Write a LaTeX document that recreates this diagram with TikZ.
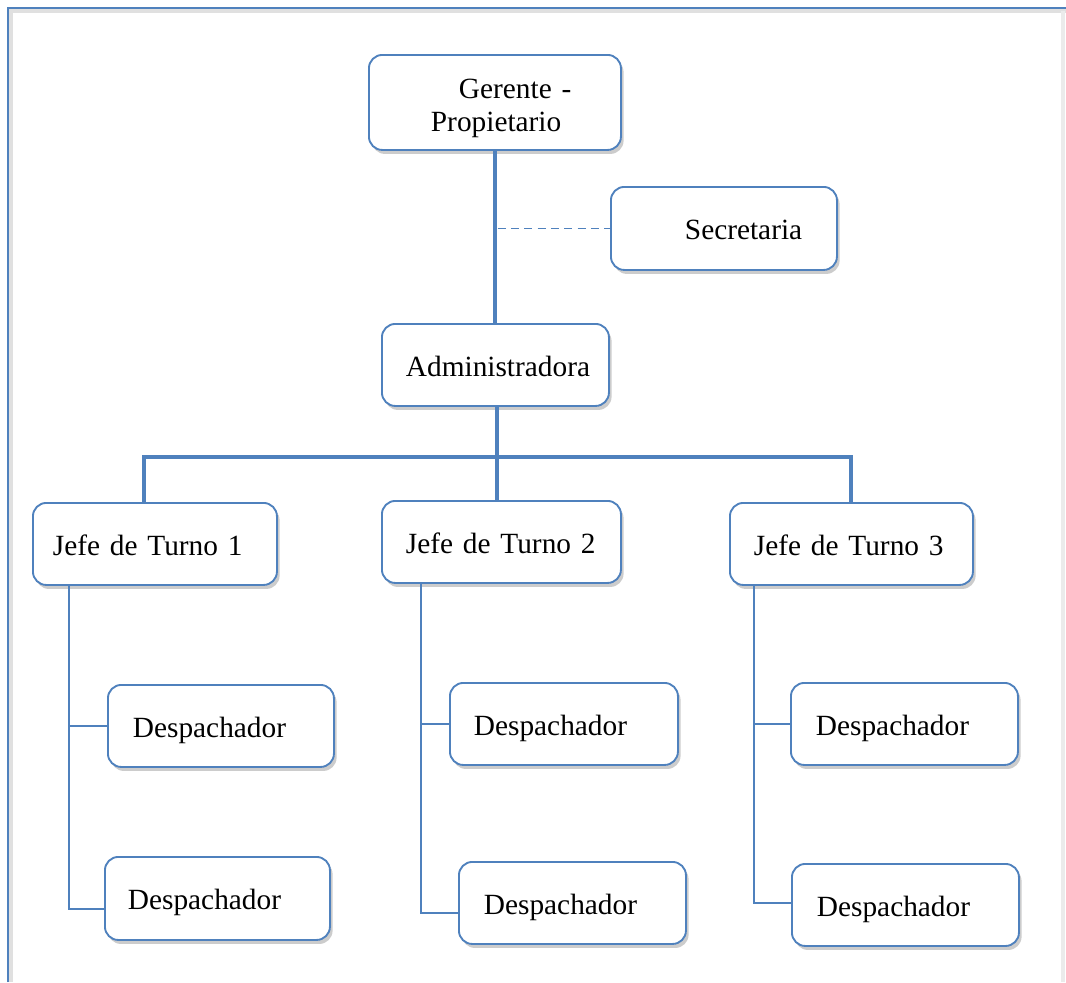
\documentclass[tikz,border=0pt]{standalone}
\usepackage{fontspec}
\setmainfont{Liberation Serif}
\usetikzlibrary{shadows,calc}
\definecolor{bl}{RGB}{79,129,189}
\begin{document}
\begin{tikzpicture}[x=0.75pt,y=-0.75pt,
  box/.style={draw=bl, line width=1.4pt, rounded corners=10pt, fill=white,
    anchor=north west, inner xsep=0pt, inner ysep=0pt, align=left,
    font=\fontsize{22}{24.5}\selectfont,
    drop shadow={opacity=0.4, shadow xshift=2pt, shadow yshift=-3pt}},
  trunk/.style={draw=bl, line width=3.4pt},
  branch/.style={draw=bl, line width=1pt},
  dashline/.style={draw=bl, line width=1pt, dash pattern=on 6pt off 4pt}]
\useasboundingbox (0,0) rectangle (1066,982);
% frame
\draw[black!12, line width=3pt] (11,982) -- (11,11) -- (1066,11);
\draw[black!8, line width=3pt] (1063,11) -- (1063,982);
\draw[bl, line width=1.5pt] (8,982) -- (8,8) -- (1066,8);

% nodes
\node[box, minimum width=189pt, minimum height=71.25pt, text width=189pt] (G) at (368,54)
  {\rule{0pt}{23.5pt}\hspace*{67.5pt}Gerente -\\\hspace*{46.5pt}Propietario};
\node[box, minimum width=169.5pt, minimum height=62.25pt, text width=169.5pt] (S) at (610,186)
  {\rule{0pt}{17pt}\hspace*{55.5pt}Secretaria};
\node[box, minimum width=170.25pt, minimum height=61.5pt, text width=170.25pt] (A) at (381,323)
  {\rule{0pt}{17pt}\hspace*{18pt}Administradora};
\node[box, minimum width=183pt, minimum height=61.5pt, text width=183pt] (J1) at (32,502)
  {\rule{0pt}{17pt}\hspace*{15pt}Jefe de Turno 1};
\node[box, minimum width=179.25pt, minimum height=61.5pt, text width=179.25pt] (J2) at (381,500)
  {\rule{0pt}{17pt}\hspace*{18pt}Jefe de Turno 2};
\node[box, minimum width=182.25pt, minimum height=61.5pt, text width=182.25pt] (J3) at (729,502)
  {\rule{0pt}{17pt}\hspace*{18pt}Jefe de Turno 3};
\node[box, minimum width=169.5pt, minimum height=61.5pt, text width=169.5pt] (D1a) at (107,684)
  {\rule{0pt}{22pt}\hspace*{18.75pt}Despachador};
\node[box, minimum width=168.75pt, minimum height=62.25pt, text width=168.75pt] (D1b) at (104,856)
  {\rule{0pt}{22pt}\hspace*{17.25pt}Despachador};
\node[box, minimum width=171pt, minimum height=61.5pt, text width=171pt] (D2a) at (449,682)
  {\rule{0pt}{22pt}\hspace*{18pt}Despachador};
\node[box, minimum width=170.25pt, minimum height=61.5pt, text width=170.25pt] (D2b) at (458,861)
  {\rule{0pt}{22pt}\hspace*{18.75pt}Despachador};
\node[box, minimum width=170.25pt, minimum height=61.5pt, text width=170.25pt] (D3a) at (790,682)
  {\rule{0pt}{22pt}\hspace*{18.75pt}Despachador};
\node[box, minimum width=170.25pt, minimum height=61.5pt, text width=170.25pt] (D3b) at (791,863)
  {\rule{0pt}{22pt}\hspace*{18.75pt}Despachador};

% top trunk
\draw[trunk] (G.south) -- (G.south |- A.north);
\draw[dashline] ([xshift=2pt]G.south |- S.west) -- (S.west);

% bus
\coordinate (b1) at (144,457);
\coordinate (b2) at (497,457);
\coordinate (b3) at (851,457);
\draw[trunk] (b1 |- J1.north) -- (b1) -- (b3) -- (b3 |- J3.north);
\draw[trunk] (b2 |- A.south) -- (b2 |- J2.north);

% branches
\coordinate (t1) at (69,909);
\coordinate (t2) at (421,913);
\coordinate (t3) at (754,903);
\draw[branch] (t1 |- J1.south) -- (t1) -- (t1 -| D1b.west);
\draw[branch] (t1 |- D1a.west) -- (D1a.west);
\draw[branch] (t2 |- J2.south) -- (t2) -- (t2 -| D2b.west);
\draw[branch] (t2 |- D2a.west) -- (D2a.west);
\draw[branch] (t3 |- J3.south) -- (t3) -- (t3 -| D3b.west);
\draw[branch] (t3 |- D3a.west) -- (D3a.west);
\end{tikzpicture}
\end{document}
